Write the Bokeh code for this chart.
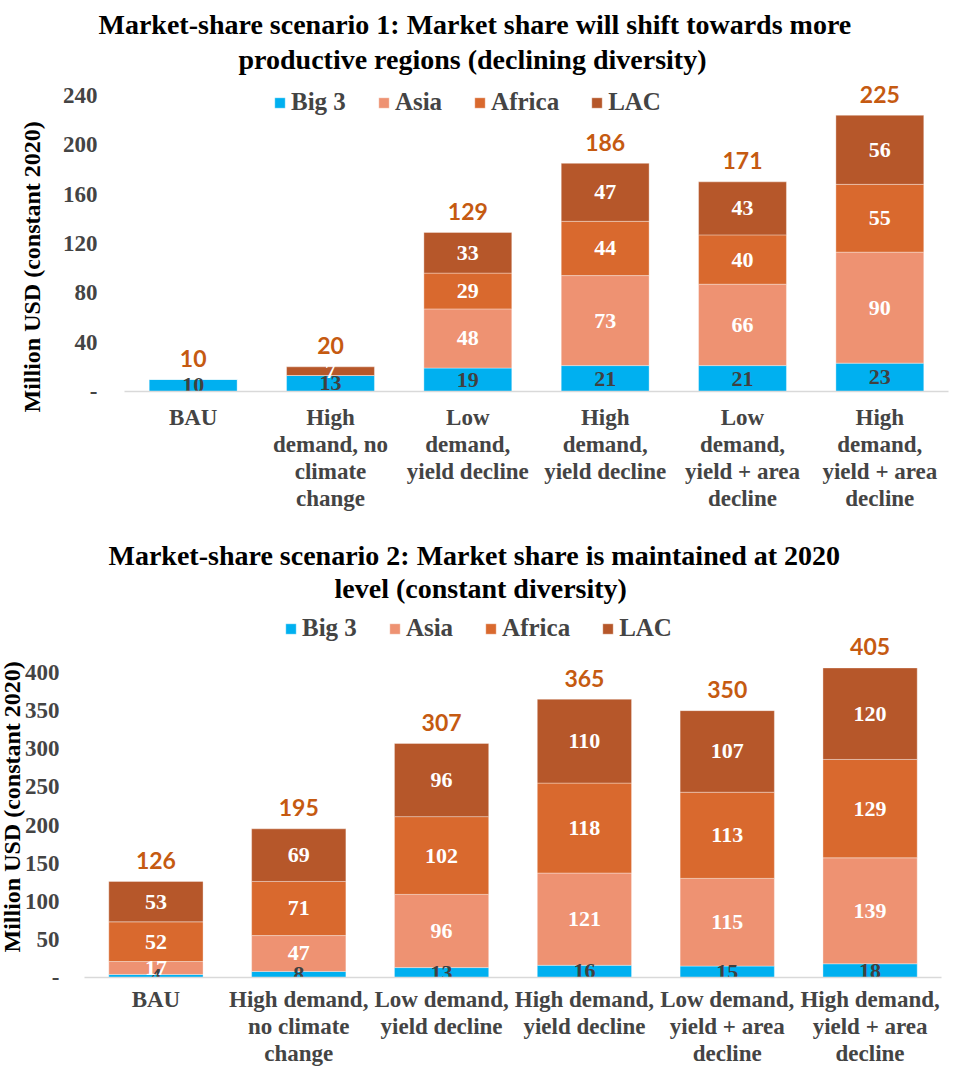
from bokeh.plotting import figure
from bokeh.models import (ColumnDataSource, FactorRange, Range1d, FixedTicker,
                          Legend, LegendItem, Title)
from bokeh.embed import file_html
from bokeh.resources import INLINE
from bokeh.core.properties import value

# ---------------- data ----------------
series = ["Big 3", "Asia", "Africa", "LAC"]
keys = ["big3", "asia", "africa", "lac"]
colors = ["#00B0F0", "#EE9272", "#D9692E", "#B6572A"]
y_title = "Million USD (constant 2020)"

title1 = ["Market-share scenario 1: Market share will shift towards more",
          "productive regions (declining diversity)"]
cats1 = ["BAU", "High\ndemand, no\nclimate\nchange", "Low\ndemand,\nyield decline",
         "High\ndemand,\nyield decline", "Low\ndemand,\nyield + area\ndecline",
         "High\ndemand,\nyield + area\ndecline"]
big3_1 = [10, 13, 19, 21, 21, 23]
asia_1 = [0, 0, 48, 73, 66, 90]
africa_1 = [0, 0, 29, 44, 40, 55]
lac_1 = [0, 7, 33, 47, 43, 56]
totals_1 = [10, 20, 129, 186, 171, 225]
yticks_1 = [0, 40, 80, 120, 160, 200, 240]

title2 = ["Market-share scenario 2: Market share is maintained at 2020",
          "level (constant diversity)"]
cats2 = ["BAU", "High demand,\nno climate\nchange", "Low demand,\nyield decline",
         "High demand,\nyield decline", "Low demand,\nyield + area\ndecline",
         "High demand,\nyield + area\ndecline"]
big3_2 = [4, 8, 13, 16, 15, 18]
asia_2 = [17, 47, 96, 121, 115, 139]
africa_2 = [52, 71, 102, 118, 113, 129]
lac_2 = [53, 69, 96, 110, 107, 120]
totals_2 = [126, 195, 307, 365, 350, 405]
yticks_2 = [0, 50, 100, 150, 200, 250, 300, 350, 400]

SERIF = "Liberation Serif"
TOTAL_COLOR = "#C55A11"


def make_chart(cfg, title, cats, data, totals, yticks):
    left, right, top, bottom = cfg["border"]
    p = figure(width=960, height=cfg["height"], x_range=FactorRange(*cats, range_padding=0),
               y_range=Range1d(0, cfg["y_end"]), output_backend="svg", toolbar_location=None,
               min_border_left=left, min_border_right=right, min_border_top=top,
               min_border_bottom=bottom, outline_line_color=None, title=None)

    src = ColumnDataSource(dict(cat=cats, **{k: v for k, v in zip(keys, data)}))
    rs = p.vbar_stack(keys, x="cat", width=cfg["bar_w"], color=colors, source=src,
                      line_color="white", line_alpha=0.35, line_width=1)

    # segment labels
    base = [0] * len(cats)
    for i, vals in enumerate(data):
        xs, ys, ts = [], [], []
        for j, v in enumerate(vals):
            if v > 0:
                xs.append(cats[j]); ys.append(base[j] + v / 2); ts.append(str(v))
            base[j] += v
        p.text(x=xs, y=ys, text=ts, text_align="center", text_baseline="middle",
               text_font=value(SERIF), text_font_style="bold", text_font_size="22px",
               text_color="#404040" if i == 0 else "white")
    # totals
    p.text(x=cats, y=base, text=[str(t) for t in totals], text_align="center",
           text_baseline="middle", y_offset=-21, text_font=value("Lato"),
           text_font_style="bold", text_font_size="23px", text_color=TOTAL_COLOR)

    legend = Legend(items=[LegendItem(label=s, renderers=[r]) for s, r in zip(series, rs)],
                    orientation="horizontal", location=cfg["legend_loc"], padding=0, margin=0,
                    spacing=31, glyph_width=13, glyph_height=13, label_standoff=5,
                    label_text_font=SERIF, label_text_font_style="bold",
                    label_text_font_size="25px", border_line_color=None,
                    background_fill_alpha=0)
    p.add_layout(legend)

    # title: second line first (closest to the frame), then first line
    for line, off, st in reversed(list(zip(title, cfg["title_off"], cfg["title_standoff"]))):
        p.add_layout(Title(text=line, align="left", offset=off, standoff=st,
                           text_font=SERIF, text_font_style="bold",
                           text_font_size="28px", text_color="black"), "above")

    p.xgrid.grid_line_color = None
    p.ygrid.grid_line_color = None
    ax = p.xaxis[0]
    ax.axis_line_color = "#D9D9D9"
    ax.axis_line_width = 1.5
    ax.major_tick_line_color = None
    ax.minor_tick_line_color = None
    ax.major_tick_out = 0
    ax.major_tick_in = 0
    ax.major_label_standoff = cfg["xlab_standoff"]
    ax.major_label_text_font = SERIF
    ax.major_label_text_font_style = "bold"
    ax.major_label_text_font_size = cfg["xlab_size"]
    ax.major_label_text_line_height = cfg["xlab_lh"]
    ax.major_label_orientation = "horizontal"

    ay = p.yaxis[0]
    ay.ticker = FixedTicker(ticks=yticks)
    ay.major_label_overrides = {0: "-"}
    ay.axis_line_color = None
    ay.major_tick_line_color = None
    ay.minor_tick_line_color = None
    ay.major_tick_out = 0
    ay.major_tick_in = 0
    ay.major_label_standoff = cfg["ytick_standoff"]
    ay.major_label_text_font = SERIF
    ay.major_label_text_font_style = "bold"
    ay.major_label_text_font_size = "23px"

    # y-axis title as a side title, so it can be shifted along the axis like the original
    p.add_layout(Title(text=y_title, align="left", offset=cfg["ylab_off"],
                       standoff=cfg["ylab_standoff"], text_font=SERIF,
                       text_font_style="bold", text_font_size="24px",
                       text_color="black"), "left")
    return p


cfg1 = dict(height=530, border=(124, 12, 80, 139), y_end=252.2, bar_w=0.64,
            legend_loc=(149, 275), title_off=[-26, 114], title_standoff=[-6, 11],
            ylab_off=-21, ylab_standoff=30, ytick_standoff=27,
            xlab_standoff=13, xlab_size="23px", xlab_lh=1.09)
cfg2 = dict(height=539, border=(83, 19, 76, 92), y_end=486.6, bar_w=0.66,
            legend_loc=(200, 335), title_off=[24, 250], title_standoff=[-6, 6],
            ylab_off=25, ylab_standoff=-7, ytick_standoff=25,
            xlab_standoff=9, xlab_size="23px", xlab_lh=1.08)

p1 = make_chart(cfg1, title1, cats1, [big3_1, asia_1, africa_1, lac_1], totals_1, yticks_1)
p2 = make_chart(cfg2, title2, cats2, [big3_2, asia_2, africa_2, lac_2], totals_2, yticks_2)

open("out.html", "w").write(file_html([p1, p2], INLINE))
